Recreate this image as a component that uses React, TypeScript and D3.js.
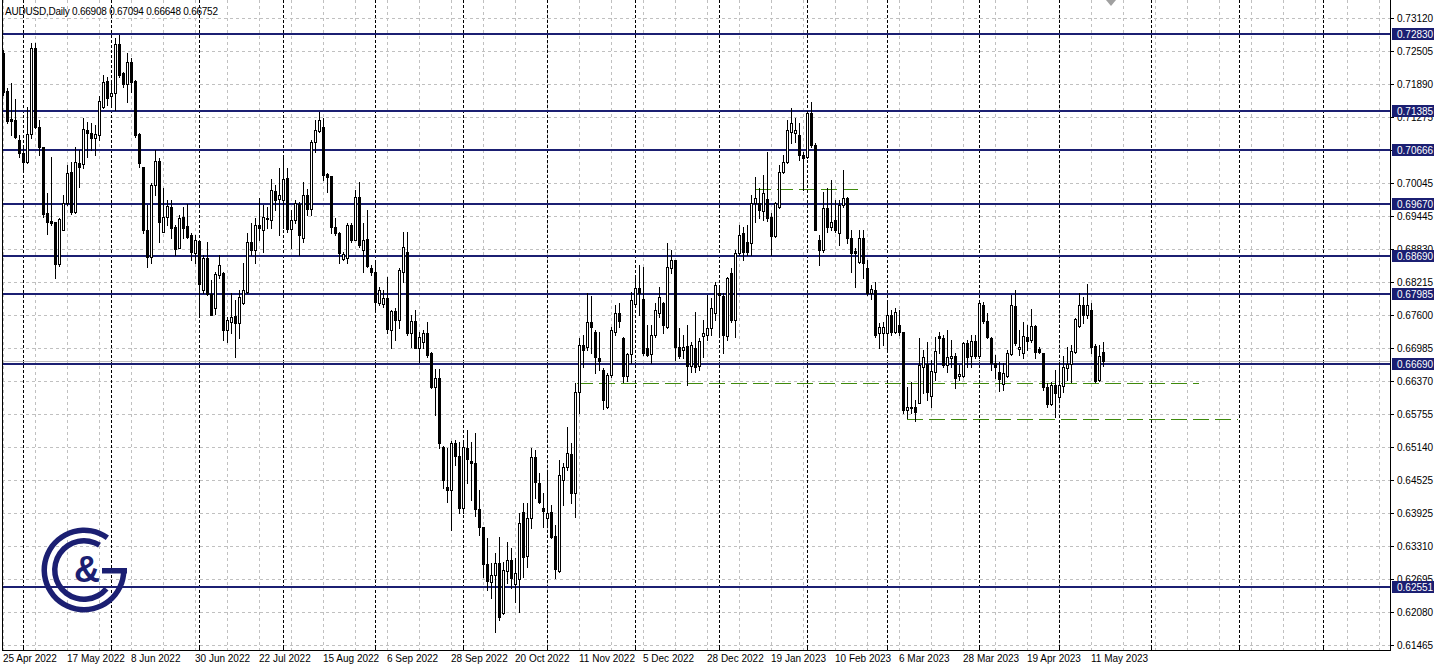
import React from 'react';
import * as d3 from 'd3';

const W = 1437;
const H = 669;

const opens = [0.7247,0.7176,0.7124,0.7122,0.7085,0.7061,0.7044,0.7096,0.7256,0.7109,0.7072,0.6950,0.6935,0.6933,0.6855,0.6918,0.6968,0.7026,0.6951,0.7042,0.7041,0.7104,0.7098,0.7089,0.7095,0.7147,0.7195,0.7167,0.7172,0.7264,0.7210,0.7189,0.7230,0.7195,0.7096,0.7035,0.6918,0.6868,0.7002,0.7046,0.6914,0.6942,0.6960,0.6924,0.6884,0.6942,0.6925,0.6909,0.6875,0.6898,0.6806,0.6866,0.6799,0.6773,0.6834,0.6838,0.6732,0.6747,0.6758,0.6745,0.6782,0.6803,0.6896,0.6881,0.6927,0.6918,0.6940,0.6937,0.6990,0.6976,0.6974,0.7015,0.6920,0.6937,0.6966,0.6903,0.6983,0.6957,0.7081,0.7102,0.7109,0.7022,0.7018,0.6924,0.6912,0.6864,0.6866,0.6927,0.6899,0.6979,0.6881,0.6901,0.6847,0.6840,0.6782,0.6780,0.6791,0.6732,0.6767,0.6751,0.6840,0.6877,0.6726,0.6749,0.6698,0.6710,0.6726,0.6690,0.6626,0.6643,0.6514,0.6440,0.6435,0.6522,0.6498,0.6401,0.6513,0.6489,0.6485,0.6399,0.6366,0.6297,0.6264,0.6277,0.6299,0.6206,0.6284,0.6304,0.6260,0.6269,0.6394,0.6312,0.6383,0.6496,0.6448,0.6401,0.6383,0.6394,0.6349,0.6284,0.6453,0.6477,0.6501,0.6429,0.6617,0.6704,0.6700,0.6747,0.6729,0.6680,0.6658,0.6589,0.6648,0.6729,0.6764,0.6717,0.6647,0.6688,0.6780,0.6810,0.6790,0.6698,0.6688,0.6723,0.6764,0.6782,0.6738,0.6847,0.6862,0.6700,0.6695,0.6702,0.6665,0.6698,0.6665,0.6721,0.6723,0.6736,0.6764,0.6801,0.6795,0.6721,0.6838,0.6751,0.6875,0.6912,0.6896,0.6894,0.6968,0.6968,0.6953,0.6976,0.6942,0.6907,0.6960,0.7026,0.7044,0.7100,0.7098,0.7095,0.7057,0.7054,0.7136,0.7076,0.6900,0.6881,0.6959,0.6924,0.6937,0.6912,0.6964,0.6977,0.6903,0.6879,0.6858,0.6903,0.6847,0.6801,0.6806,0.6726,0.6726,0.6726,0.6760,0.6729,0.6741,0.6729,0.6583,0.6587,0.6589,0.6596,0.6663,0.6669,0.6609,0.6654,0.6721,0.6717,0.6667,0.6680,0.6684,0.6646,0.6646,0.6708,0.6684,0.6712,0.6684,0.6778,0.6749,0.6717,0.6671,0.6654,0.6632,0.6646,0.6688,0.6777,0.6697,0.6689,0.6719,0.6713,0.6739,0.6697,0.6689,0.6626,0.6594,0.6630,0.6607,0.6628,0.6661,0.6669,0.6691,0.6740,0.6778,0.6760,0.6769,0.6702,0.6639,0.66908];
const highs = [0.7253,0.7182,0.7191,0.7161,0.7095,0.7070,0.7147,0.7266,0.7266,0.7122,0.7072,0.6987,0.7054,0.6933,0.6940,0.6983,0.7039,0.7044,0.7072,0.7067,0.7126,0.7119,0.7117,0.7113,0.7167,0.7206,0.7202,0.7197,0.7275,0.7280,0.7212,0.7247,0.7238,0.7197,0.7098,0.7035,0.6964,0.7005,0.7067,0.7052,0.6996,0.6974,0.6974,0.6927,0.6946,0.6960,0.6966,0.6912,0.6909,0.6898,0.6871,0.6896,0.6825,0.6840,0.6871,0.6840,0.6756,0.6801,0.6788,0.6806,0.6857,0.6912,0.6931,0.6940,0.6977,0.6964,0.6960,0.7013,0.7002,0.7033,0.7052,0.7033,0.6955,0.6974,0.6970,0.7007,0.6994,0.7085,0.7122,0.7137,0.7126,0.7024,0.7018,0.6940,0.6914,0.6877,0.6931,0.6931,0.6992,0.7007,0.6931,0.6955,0.6853,0.6857,0.6812,0.6806,0.6831,0.6769,0.6773,0.6847,0.6914,0.6914,0.6760,0.6769,0.6728,0.6732,0.6747,0.6691,0.6660,0.6660,0.6516,0.6513,0.6526,0.6528,0.6524,0.6524,0.6546,0.6524,0.6541,0.6435,0.6366,0.6345,0.6299,0.6317,0.6347,0.6301,0.6338,0.6327,0.6308,0.6392,0.6410,0.6410,0.6513,0.6509,0.6466,0.6429,0.6468,0.6407,0.6370,0.6490,0.6485,0.6552,0.6522,0.6634,0.6717,0.6723,0.6801,0.6795,0.6732,0.6729,0.6661,0.6652,0.6738,0.6779,0.6782,0.6719,0.6689,0.6803,0.6834,0.6853,0.6849,0.6741,0.6741,0.6782,0.6812,0.6784,0.6894,0.6881,0.6862,0.6736,0.6723,0.6741,0.6710,0.6765,0.6717,0.6751,0.6797,0.6791,0.6821,0.6812,0.6801,0.6831,0.6847,0.6881,0.6927,0.6924,0.6927,0.6983,0.7016,0.6996,0.7020,0.7063,0.6950,0.6970,0.7039,0.7057,0.7122,0.7145,0.7126,0.7117,0.7063,0.7139,0.7156,0.7080,0.6909,0.6989,0.6996,0.7011,0.6974,0.6974,0.7029,0.6979,0.6918,0.6884,0.6918,0.6918,0.6862,0.6816,0.6821,0.6745,0.6747,0.6782,0.6769,0.6773,0.6769,0.6729,0.6626,0.6635,0.6602,0.6717,0.6695,0.6710,0.6676,0.6719,0.6728,0.6723,0.6732,0.6713,0.6689,0.6667,0.6710,0.6713,0.6723,0.6723,0.6784,0.6784,0.6764,0.6719,0.6686,0.6672,0.6671,0.6695,0.6797,0.6806,0.6732,0.6747,0.6741,0.6771,0.6741,0.6700,0.6689,0.6633,0.6635,0.6658,0.6671,0.6684,0.6700,0.6704,0.6754,0.6801,0.6793,0.6817,0.6782,0.6706,0.6704,0.67094];
const lows = [0.7169,0.7117,0.7095,0.7089,0.7054,0.7026,0.7042,0.7089,0.7107,0.7057,0.6942,0.6910,0.6927,0.6829,0.6851,0.6918,0.6964,0.6948,0.6950,0.6998,0.7033,0.7054,0.7067,0.7057,0.7085,0.7145,0.7150,0.7149,0.7141,0.7202,0.7184,0.7156,0.7174,0.7091,0.7035,0.6912,0.6849,0.6857,0.6983,0.6896,0.6914,0.6927,0.6903,0.6871,0.6884,0.6903,0.6903,0.6862,0.6857,0.6757,0.6801,0.6797,0.6760,0.6762,0.6829,0.6713,0.6710,0.6726,0.6682,0.6717,0.6780,0.6801,0.6871,0.6857,0.6899,0.6877,0.6922,0.6922,0.6955,0.6909,0.6922,0.6914,0.6884,0.6931,0.6871,0.6896,0.6946,0.6946,0.7063,0.7100,0.7011,0.6989,0.6912,0.6909,0.6857,0.6862,0.6857,0.6896,0.6899,0.6886,0.6840,0.6849,0.6834,0.6769,0.6778,0.6775,0.6726,0.6698,0.6713,0.6736,0.6821,0.6723,0.6700,0.6698,0.6672,0.6698,0.6682,0.6624,0.6574,0.6513,0.6438,0.6413,0.6360,0.6481,0.6392,0.6392,0.6447,0.6416,0.6386,0.6351,0.6273,0.6249,0.6234,0.6171,0.6193,0.6204,0.6262,0.6253,0.6226,0.6208,0.6273,0.6291,0.6364,0.6420,0.6410,0.6366,0.6366,0.6345,0.6271,0.6282,0.6407,0.6472,0.6410,0.6384,0.6578,0.6663,0.6695,0.6689,0.6652,0.6658,0.6585,0.6587,0.6645,0.6723,0.6738,0.6635,0.6637,0.6671,0.6778,0.6760,0.6686,0.6684,0.6671,0.6719,0.6756,0.6726,0.6736,0.6838,0.6676,0.6680,0.6680,0.6630,0.6654,0.6654,0.6658,0.6682,0.6713,0.6723,0.6751,0.6719,0.6689,0.6713,0.6747,0.6719,0.6871,0.6862,0.6871,0.6871,0.6933,0.6940,0.6937,0.6935,0.6871,0.6905,0.6959,0.7024,0.7042,0.7080,0.7081,0.7048,0.6992,0.7052,0.7072,0.6918,0.6853,0.6877,0.6914,0.6918,0.6914,0.6890,0.6960,0.6894,0.6840,0.6812,0.6857,0.6829,0.6797,0.6790,0.6719,0.6698,0.6704,0.6695,0.6723,0.6726,0.6723,0.6578,0.6569,0.6578,0.6563,0.6596,0.6615,0.6602,0.6589,0.6639,0.6689,0.6663,0.6654,0.6663,0.6624,0.6639,0.6645,0.6663,0.6663,0.6680,0.6680,0.6745,0.6717,0.6658,0.6643,0.6618,0.6621,0.6645,0.6686,0.6704,0.6686,0.6680,0.6695,0.6710,0.6680,0.6689,0.6621,0.6589,0.6593,0.6570,0.6598,0.6617,0.6639,0.6635,0.6689,0.6738,0.6745,0.6754,0.6689,0.6635,0.6637,0.66648];
const closes = [0.7174,0.7121,0.7121,0.7091,0.7061,0.7044,0.7096,0.7256,0.7109,0.7072,0.6948,0.6933,0.6931,0.6855,0.6938,0.6968,0.7024,0.6951,0.7044,0.7035,0.7106,0.7098,0.7089,0.7096,0.7158,0.7193,0.7164,0.7172,0.7264,0.7206,0.7189,0.7230,0.7193,0.7095,0.7042,0.6918,0.6868,0.7002,0.7046,0.6933,0.6942,0.6962,0.6922,0.6883,0.6940,0.6922,0.6905,0.6877,0.6899,0.6817,0.6866,0.6799,0.6760,0.6836,0.6853,0.6732,0.6751,0.6756,0.6745,0.6793,0.6806,0.6896,0.6881,0.6927,0.6922,0.6942,0.6938,0.6992,0.6974,0.6983,0.7013,0.6920,0.6937,0.6968,0.6909,0.6983,0.6957,0.7081,0.7104,0.7122,0.7020,0.7016,0.6924,0.6912,0.6875,0.6873,0.6927,0.6899,0.6979,0.6890,0.6899,0.6851,0.6840,0.6784,0.6806,0.6791,0.6734,0.6767,0.6751,0.6844,0.6886,0.6726,0.6749,0.6698,0.6719,0.6726,0.6686,0.6626,0.6643,0.6522,0.6453,0.6435,0.6522,0.6498,0.6401,0.6514,0.6492,0.6485,0.6399,0.6366,0.6297,0.6265,0.6277,0.6299,0.6199,0.6286,0.6304,0.6271,0.6280,0.6373,0.6310,0.6383,0.6496,0.6449,0.6412,0.6396,0.6392,0.6347,0.6288,0.6463,0.6477,0.6503,0.6429,0.6617,0.6704,0.6695,0.6747,0.6738,0.6682,0.6674,0.6602,0.6648,0.6732,0.6764,0.6749,0.6647,0.6688,0.6788,0.6810,0.6801,0.6689,0.6686,0.6723,0.6769,0.6793,0.6741,0.6849,0.6862,0.6700,0.6684,0.6700,0.6665,0.6704,0.6663,0.6712,0.6726,0.6736,0.6773,0.6816,0.6797,0.6723,0.6829,0.6751,0.6875,0.6909,0.6877,0.6877,0.6968,0.6977,0.6955,0.6987,0.6940,0.6907,0.6968,0.7026,0.7044,0.7104,0.7117,0.7104,0.7057,0.7052,0.7136,0.7076,0.6918,0.6881,0.6959,0.6924,0.6933,0.6918,0.6964,0.6977,0.6903,0.6875,0.6875,0.6903,0.6857,0.6801,0.6808,0.6723,0.6738,0.6738,0.6760,0.6729,0.6766,0.6729,0.6583,0.6589,0.6589,0.6580,0.6667,0.6682,0.6617,0.6656,0.6693,0.6717,0.6667,0.6682,0.6684,0.6643,0.6650,0.6708,0.6682,0.6712,0.6684,0.6782,0.6749,0.6719,0.6671,0.6663,0.6641,0.6652,0.6689,0.6778,0.6708,0.6700,0.6721,0.6712,0.6739,0.6691,0.6691,0.6626,0.6594,0.6630,0.6615,0.6630,0.6663,0.6669,0.6693,0.6753,0.6778,0.6760,0.6778,0.6700,0.6637,0.6684,0.66752];

const priceTicks = [0.73120,0.72505,0.71890,0.71275,0.70660,0.70045,0.69445,0.68830,0.68215,0.67600,0.66985,0.66370,0.65755,0.65140,0.64525,0.63925,0.63310,0.62695,0.62080,0.61465];
const levelLines = [0.72830,0.71385,0.70666,0.69670,0.68690,0.67985,0.66690,0.62551];
const dateLabels = ['25 Apr 2022','17 May 2022','8 Jun 2022','30 Jun 2022','22 Jul 2022','15 Aug 2022','6 Sep 2022','28 Sep 2022','20 Oct 2022','11 Nov 2022','5 Dec 2022','28 Dec 2022','19 Jan 2023','10 Feb 2023','6 Mar 2023','28 Mar 2023','19 Apr 2023','11 May 2023'];
const dateLabelBars = [0,16,32,48,64,80,96,112,128,144,160,176,192,208,224,240,256,272];
const monthStartBars = [5,27,49,70,93,115,136,158,179,201,221,244,264,287,309,330];
const supportLines = [
  { from: 143.5, to: 299, price: 0.66335 },
  { from: 226, to: 308.75, price: 0.65666 },
  { from: 188, to: 213.75, price: 0.69941 },
];
const bidPrice = 0.66752;
const header = 'AUDUSD,Daily  0.66908 0.67094 0.66648 0.66752';

const NAVY = '#1b1f72';
const GREEN = '#3f8a0c';
const FONT = '"Liberation Sans", Arial, sans-serif';

export default function App() {
  const plotLeft = 2;
  const plotRight = 1390;
  const plotBottom = 650;
  const x = d3.scaleLinear().domain([0, 347]).range([3, 1391]);
  const y = d3.scaleLinear().domain([0.61465, 0.73120]).range([645, 18]);
  const px = (i: number) => Math.round(x(i));
  const py = (v: number) => Math.round(y(v));

  const gridBars = d3.range(0, 348, 8);

  const outerArc = d3.arc()({ innerRadius: 37, outerRadius: 42.5, startAngle: Math.PI / 2, endAngle: (396 * Math.PI) / 180 } as any) as string;
  const innerArc = d3.arc()({ innerRadius: 26.5, outerRadius: 32, startAngle: (130 * Math.PI) / 180, endAngle: (392 * Math.PI) / 180 } as any) as string;

  return (
    <svg width={W} height={H} viewBox={`0 0 ${W} ${H}`} style={{ position: 'fixed', left: 0, top: 0, background: '#fff', display: 'block' }}>
      <rect x={0} y={0} width={W} height={H} fill="#fff" />
      <g shapeRendering="crispEdges">
        {priceTicks.map((t) => (
          <line key={'hg' + t} x1={plotLeft} x2={plotRight} y1={py(t) + 0.5} y2={py(t) + 0.5} stroke="#c0c0c0" strokeDasharray="3,3" />
        ))}
        {gridBars.map((b) => (
          <line key={'vg' + b} x1={px(b) + 0.5} x2={px(b) + 0.5} y1={0} y2={plotBottom} stroke="#c0c0c0" strokeDasharray="3,3" />
        ))}
        {monthStartBars.map((b) => (
          <line key={'ms' + b} x1={px(b) + 0.5} x2={px(b) + 0.5} y1={0} y2={plotBottom} stroke="#000" strokeDasharray="3,2" />
        ))}
        {supportLines.map((s, k) => (
          <line key={'sl' + k} x1={px(s.from)} x2={px(s.to)} y1={py(s.price) + 0.5} y2={py(s.price) + 0.5} stroke={GREEN} strokeDasharray="16,6" />
        ))}
        <line x1={plotLeft} x2={plotRight} y1={py(bidPrice) + 0.5} y2={py(bidPrice) + 0.5} stroke="#c0c0c0" />
        {levelLines.map((l) => (
          <line key={'lv' + l} x1={plotLeft} x2={plotRight} y1={py(l)} y2={py(l)} stroke={NAVY} strokeWidth={2} />
        ))}
        {opens.map((o, i) => {
          const c = closes[i];
          const cx = px(i);
          const top = py(Math.max(o, c));
          const bot = py(Math.min(o, c));
          const bull = c >= o;
          return (
            <g key={'c' + i}>
              <line x1={cx + 0.5} x2={cx + 0.5} y1={py(highs[i])} y2={py(lows[i]) + 1} stroke="#000" />
              <rect x={cx - 0.5} y={top + 0.5} width={2} height={Math.max(bot - top, 0)} fill={bull ? '#fff' : '#000'} stroke="#000" />
            </g>
          );
        })}
        <line x1={plotLeft + 0.5} x2={plotLeft + 0.5} y1={0} y2={plotBottom} stroke="#000" />
        <line x1={plotRight + 0.5} x2={plotRight + 0.5} y1={0} y2={plotBottom + 1} stroke="#000" />
        <line x1={plotLeft} x2={plotRight + 1} y1={plotBottom + 0.5} y2={plotBottom + 0.5} stroke="#000" />
        {priceTicks.map((t) => (
          <line key={'tk' + t} x1={plotRight} x2={plotRight + 4} y1={py(t) + 0.5} y2={py(t) + 0.5} stroke="#000" />
        ))}
        {monthStartBars.map((b) => (
          <line key={'bt' + b} x1={px(b) + 0.5} x2={px(b) + 0.5} y1={plotBottom - 4} y2={plotBottom} stroke="#000" />
        ))}
      </g>
      <polygon points="1106,0 1116,0 1111,6" fill="#a0a0a0" />
      <g fontFamily={FONT} fontSize={10} fill="#000">
        <text x={5} y={15} textLength={213}>{header}</text>
        {priceTicks.map((t) => (
          <text key={'pl' + t} x={1397} y={py(t) + 4}>{t.toFixed(5)}</text>
        ))}
        {levelLines.map((l) => (
          <g key={'ll' + l}>
            <rect x={1392} y={py(l) - 6} width={42} height={12} fill={NAVY} />
            <text x={1397} y={py(l) + 4} fill="#fff">{l.toFixed(5)}</text>
          </g>
        ))}
        {dateLabels.map((d, k) => (
          <text key={'dl' + d} x={px(dateLabelBars[k]) } y={662}>{d}</text>
        ))}
      </g>
      <g transform="translate(84,570)" fill={NAVY}>
        <path d={outerArc} />
        <rect x={18} y={-2} width={25} height={5.5} />
        <path d={innerArc} />
        <text x={3} y={12} textAnchor="middle" fontFamily={FONT} fontWeight="bold" fontSize={36}>&amp;</text>
      </g>
    </svg>
  );
}
